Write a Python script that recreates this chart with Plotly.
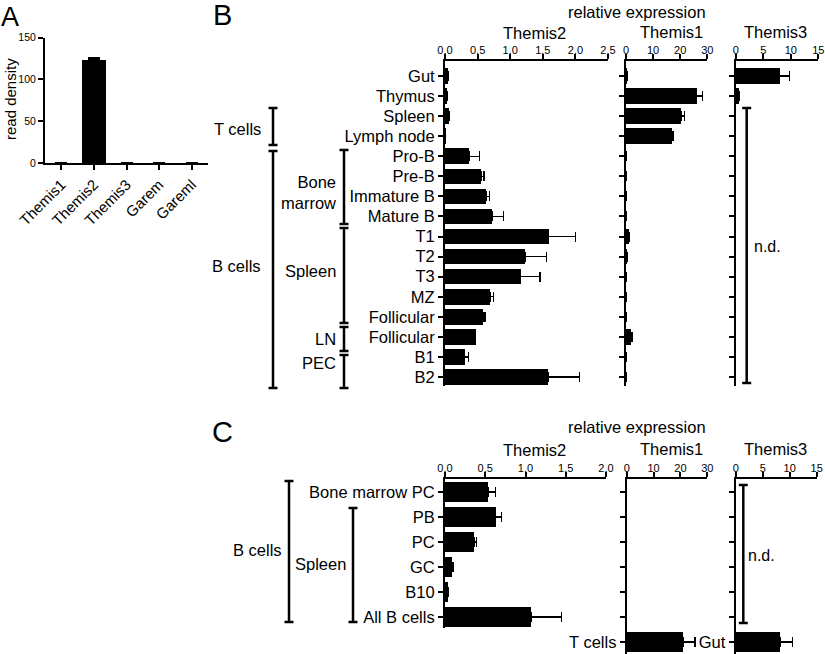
import plotly.graph_objects as go

W, H = 825, 654
FONT = "Liberation Sans, Arial, Helvetica, sans-serif"

# ---------------- Panel A data ----------------
genes = ["Themis1", "Themis2", "Themis3", "Garem", "Gareml"]
read_density = [0, 124, 0, 0, 0]
read_density_err = [0, 2, 0, 0, 0]

# ---------------- Panel B data ----------------
b_rows = ["Gut", "Thymus", "Spleen", "Lymph node", "Pro-B", "Pre-B", "Immature B",
          "Mature B", "T1", "T2", "T3", "MZ", "Follicular", "Follicular", "B1", "B2"]
b_themis2 = [0.05, 0.035, 0.06, 0.01, 0.37, 0.55, 0.63, 0.72, 1.59, 1.23, 1.16,
             0.69, 0.59, 0.47, 0.30, 1.58]
b_themis2_err = [0.0, 0.0, 0.0, 0.0, 0.16, 0.05, 0.05, 0.18, 0.41, 0.33, 0.30,
                 0.05, 0.02, 0.0, 0.06, 0.48]
b_themis1 = [0.3, 26.1, 20.3, 16.9, 0, 0, 0, 0, 1.0, 0.3, 0, 0, 0, 1.8, 0, 0]
b_themis1_err = [0, 2.1, 1.2, 0.4, 0, 0, 0, 0, 0.3, 0.1, 0, 0, 0, 0.5, 0, 0]
b_themis3 = [7.9, 0.55, None, None, None, None, None, None, None, None, None,
             None, None, None, None, None]
b_themis3_err = [1.85, 0.1, None, None, None, None, None, None, None, None, None,
                 None, None, None, None, None]

# ---------------- Panel C data ----------------
c_rows = ["Bone marrow PC", "PB", "PC", "GC", "B10", "All B cells"]
c_themis2 = [0.54, 0.63, 0.36, 0.09, 0.04, 1.07]
c_themis2_err = [0.09, 0.07, 0.03, 0.01, 0.0, 0.38]
c_themis1_labels = ["", "", "", "", "", "", "T cells"]
c_themis1 = [None, None, None, None, None, None, 21.0]
c_themis1_err = [None, None, None, None, None, None, 4.4]
c_themis3_labels = ["", "", "", "", "", "", "Gut"]
c_themis3 = [None, None, None, None, None, None, 8.2]
c_themis3_err = [None, None, None, None, None, None, 2.35]


def px(x):
    return x / W


def py(y):
    return 1 - y / H


def hbar(values, errs, xa, ya, width=0.78):
    pos = list(range(len(values)))
    return go.Bar(
        x=values, y=pos, orientation="h", xaxis=xa, yaxis=ya, width=width,
        marker=dict(color="black", line=dict(width=0)),
        error_x=dict(type="data", array=errs, arrayminus=[0] * len(errs),
                     symmetric=False, color="black", thickness=1.5, width=5),
        showlegend=False, hoverinfo="skip")


fig = go.Figure()

# Panel A
fig.add_trace(go.Bar(
    x=genes, y=read_density, xaxis="x", yaxis="y", width=0.73,
    marker=dict(color="black", line=dict(width=0)),
    error_y=dict(type="data", array=read_density_err, arrayminus=[0] * len(genes),
                 symmetric=False, color="black", thickness=1.5, width=6),
    showlegend=False, hoverinfo="skip"))

# Panel B
fig.add_trace(hbar(b_themis2, b_themis2_err, "x2", "y2"))
fig.add_trace(hbar(b_themis1, b_themis1_err, "x3", "y3"))
fig.add_trace(hbar(b_themis3, b_themis3_err, "x4", "y4"))

# Panel C
fig.add_trace(hbar(c_themis2, c_themis2_err, "x5", "y5"))
fig.add_trace(hbar(c_themis1, c_themis1_err, "x6", "y6"))
fig.add_trace(hbar(c_themis3, c_themis3_err, "x7", "y7"))

base = dict(showline=True, linecolor="black", linewidth=2, ticks="outside",
            ticklen=5, tickwidth=2, tickcolor="black", showgrid=False,
            zeroline=False, fixedrange=True, automargin=False,
            tickfont=dict(family=FONT, size=11, color="black"))


def ax(**kw):
    d = dict(base)
    d.update(kw)
    return d


def topx(**kw):
    d = dict(side="top", ticklabelstandoff=-4)
    d.update(kw)
    return ax(**d)


b_top, b_bot = 61, 386
c_top = 479
b_range = [15.45, -0.75]
c2_range = [5.44, -0.52]
c_side_range = [6.48, -0.52]

layout = dict(
    width=W, height=H, margin=dict(l=0, r=0, t=0, b=0),
    paper_bgcolor="white", plot_bgcolor="white", bargap=0,
    font=dict(family=FONT, color="black"), showlegend=False,
    # Panel A
    xaxis=ax(domain=[px(45), px(208)], anchor="y", range=[-0.5, 4.5],
             tickangle=-45, tickfont=dict(family=FONT, size=15, color="black")),
    yaxis=ax(domain=[py(163), py(37.7)], anchor="x", range=[0, 150],
             tickvals=[0, 50, 100, 150], tickfont=dict(family=FONT, size=10.5, color="black")),
    # Panel B
    xaxis2=topx(domain=[px(445), px(608)], anchor="y2", range=[0, 2.5],
                tickvals=[0, 0.5, 1.0, 1.5, 2.0, 2.5], tickformat=".1f"),
    yaxis2=ax(domain=[py(b_bot), py(b_top)], anchor="x2", range=b_range,
              tickvals=list(range(len(b_rows))), ticktext=b_rows,
              tickfont=dict(family=FONT, size=16.5, color="black")),
    xaxis3=topx(domain=[px(626), px(707.3)], anchor="y3", range=[0, 30],
                tickvals=[0, 10, 20, 30]),
    yaxis3=ax(domain=[py(b_bot), py(b_top)], anchor="x3", range=b_range,
              tickvals=list(range(len(b_rows))), showticklabels=False),
    xaxis4=topx(domain=[px(735.7), px(818.3)], anchor="y4", range=[0, 15],
                tickvals=[0, 5, 10, 15]),
    yaxis4=ax(domain=[py(b_bot), py(b_top)], anchor="x4", range=b_range,
              tickvals=list(range(len(b_rows))), showticklabels=False),
    # Panel C
    xaxis5=topx(domain=[px(445), px(606)], anchor="y5", range=[0, 2.0],
                tickvals=[0, 0.5, 1.0, 1.5, 2.0], tickformat=".1f"),
    yaxis5=ax(domain=[py(628), py(c_top)], anchor="x5", range=c2_range,
              tickvals=list(range(len(c_rows))), ticktext=c_rows,
              tickfont=dict(family=FONT, size=16.5, color="black")),
    xaxis6=topx(domain=[px(626.7), px(707.3)], anchor="y6", range=[0, 30],
                tickvals=[0, 10, 20, 30]),
    yaxis6=ax(domain=[0, py(c_top)], anchor="x6", range=c_side_range,
              tickvals=list(range(len(c_themis1_labels))), ticktext=c_themis1_labels,
              tickfont=dict(family=FONT, size=16.5, color="black")),
    xaxis7=topx(domain=[px(735.7), px(816.7)], anchor="y7", range=[0, 15],
                tickvals=[0, 5, 10, 15]),
    yaxis7=ax(domain=[0, py(c_top)], anchor="x7", range=c_side_range,
              tickvals=list(range(len(c_themis3_labels))), ticktext=c_themis3_labels,
              tickfont=dict(family=FONT, size=16.5, color="black")),
)
fig.update_layout(**layout)

annotations = []


def text(t, x, y, size=16.5, xanchor="center", align="center", angle=0, family=FONT):
    annotations.append(dict(text=t, x=px(x), y=py(y), xref="paper", yref="paper",
                            xanchor=xanchor, yanchor="middle", showarrow=False,
                            align=align, textangle=angle,
                            font=dict(family=family, size=size, color="black")))


# Panel letters
text("A", 10, 17, size=27)
text("B", 222, 15, size=29)
text("C", 222, 432, size=29)

# Panel A y title
text("read density", 11, 99, size=15, angle=-90)

# Panel B titles
text("relative expression", 637, 12)
text("Themis2", 534, 33)
text("Themis1", 671, 32)
text("Themis3", 775, 32)
# Panel C titles
text("relative expression", 637, 427)
text("Themis2", 534, 450)
text("Themis1", 671, 449)
text("Themis3", 775, 449)

# Group labels B
text("T cells", 263, 129, xanchor="right")
text("B cells", 263, 266, xanchor="right")
text("Bone<br>marrow", 338, 192, xanchor="right", align="right")
text("Spleen", 338, 271, xanchor="right")
text("LN", 338, 339, xanchor="right")
text("PEC", 338, 363, xanchor="right")
text("n.d.", 752, 247, xanchor="left", size=16)
# Group labels C
text("B cells", 284, 550, xanchor="right")
text("Spleen", 348, 564, xanchor="right")
text("n.d.", 746, 555, xanchor="left", size=16)

fig.update_layout(annotations=annotations)

shapes = []


def bracket(x, y0, y1, hw=4.5, lw=2.5):
    line = dict(color="black", width=lw)
    shapes.append(dict(type="line", xref="paper", yref="paper", x0=px(x), x1=px(x),
                       y0=py(y0), y1=py(y1), line=line))
    for yy in (y0, y1):
        shapes.append(dict(type="line", xref="paper", yref="paper", x0=px(x - hw),
                           x1=px(x + hw), y0=py(yy), y1=py(yy), line=line))


# Panel B brackets
bracket(273, 108, 145)
bracket(273, 151, 388)
bracket(344, 150, 224)
bracket(344, 228, 323)
bracket(344, 327, 351)
bracket(344, 355, 388)
bracket(746.7, 108, 383)
# Panel C brackets
bracket(289, 481, 622)
bracket(353, 508, 622)
bracket(743.3, 485, 623)

fig.update_layout(shapes=shapes)

fig.write_html(
    "out.html",
    config={"displayModeBar": False},
    post_script="document.body.style.margin='0';document.body.style.overflow='hidden';",
)
